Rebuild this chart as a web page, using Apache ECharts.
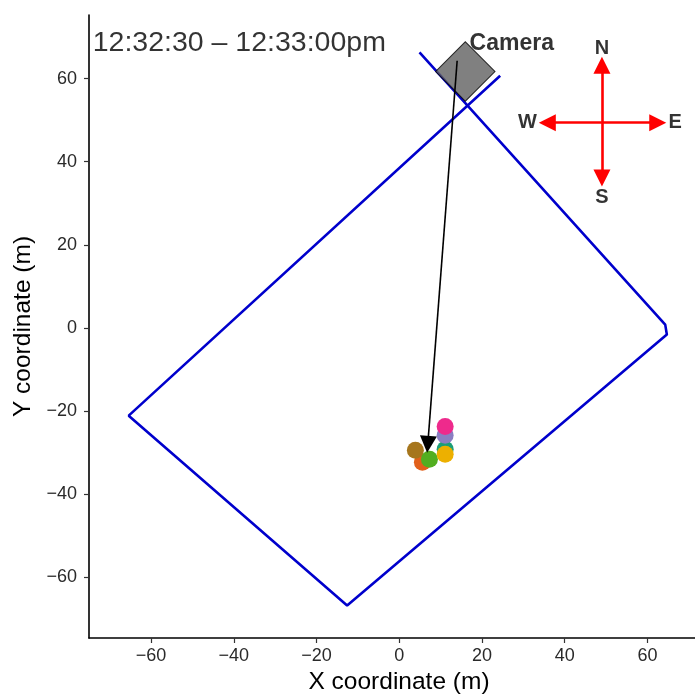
<!DOCTYPE html>
<html><head><meta charset="utf-8">
<script src="https://cdn.jsdelivr.net/npm/echarts@6/dist/echarts.min.js"></script>
<style>html,body{margin:0;padding:0;background:#fff}#c{width:695px;height:700px}</style>
</head><body><div id="c"></div>
<script>
// ---- data ----
const xTicks = [-60, -40, -20, 0, 20, 40, 60];
const yTicks = [-60, -40, -20, 0, 20, 40, 60];
const boundaryX = [4.9, 64.3, 64.7, -12.6, -65.4, 24.4];
const boundaryY = [66.3, 0.8, -1.6, -66.8, -21.1, 60.7];
const pointX = [5.6, 3.9, 7.3, 11.1, 11.1, 11.1, 11.1];
const pointY = [-32.3, -29.4, -31.6, -29.2, -30.4, -25.8, -23.7];
const pointColors = ['#E2601A', '#A6761D', '#52AE20', '#1B9E77', '#EDB000', '#8A7EC2', '#EE2A8C'];
const cameraPos = [15.97, 61.7];
const viewFrom = [14.0, 64.3];
const viewTo = [6.9, -28.0];
const compassCenter = [49.0, 49.4];
const compassTips = [[49.0, 63.2], [49.0, 36.1], [35.8, 49.4], [62.5, 49.4]];
const compassLetters = ['N', 'S', 'W', 'E'];
const compassLetterPos = [[49.0, 67.2], [49.0, 31.5], [31.0, 49.4], [66.7, 49.4]];
const titleText = '12:32:30 \u2013 12:33:00pm';
const titlePos = [-74.1, 68.6];
const cameraText = 'Camera';
const cameraTextPos = [27.2, 68.5];

const FONT = 'Liberation Sans, Arial, sans-serif';
const chart = echarts.init(document.getElementById('c'), null, {renderer: 'canvas'});

const boundaryData = boundaryX.map((x, i) => [x, boundaryY[i]]);
const pointData = pointX.map((x, i) => ({value: [x, pointY[i]], itemStyle: {color: pointColors[i]}}));
const fmt = v => (v < 0 ? '\u2212' + Math.abs(v) : String(v));

chart.setOption({
  animation: false,
  backgroundColor: '#fff',
  grid: {left: 89, right: 0, top: 15, bottom: 58},
  xAxis: {
    type: 'value', min: -75, max: 71.5,
    splitLine: {show: false},
    axisLine: {show: true, onZero: false, lineStyle: {color: '#000', width: 1.6}},
    axisTick: {show: true, customValues: xTicks, length: 5, lineStyle: {color: '#333', width: 1.2}},
    axisLabel: {customValues: xTicks, fontSize: 18, color: '#2a2a2a', margin: 9, fontFamily: FONT, formatter: fmt},
    name: 'X coordinate (m)', nameLocation: 'middle', nameGap: 32,
    nameTextStyle: {fontSize: 24.5, color: '#000', fontFamily: FONT, padding: [0, 0, 0, 14]}
  },
  yAxis: {
    type: 'value', min: -74.6, max: 75.3,
    splitLine: {show: false},
    axisLine: {show: true, onZero: false, lineStyle: {color: '#000', width: 1.6}},
    axisTick: {show: true, customValues: yTicks, length: 5, lineStyle: {color: '#333', width: 1.2}},
    axisLabel: {customValues: yTicks, fontSize: 18, color: '#2a2a2a', margin: 12, fontFamily: FONT, formatter: fmt},
    name: 'Y coordinate (m)', nameLocation: 'middle', nameGap: 49,
    nameTextStyle: {fontSize: 24.5, color: '#000', fontFamily: FONT}
  },
  series: [
    {
      type: 'line', data: boundaryData, showSymbol: false, symbol: 'none', silent: true,
      lineStyle: {color: '#0000CC', width: 2.6}, z: 2
    },
    {
      type: 'scatter', data: [cameraPos], symbol: 'rect', symbolSize: 42, symbolRotate: 45, silent: true,
      itemStyle: {color: '#606060', borderColor: '#000', borderWidth: 1}, z: 3
    },
    {
      type: 'scatter', data: pointData, symbolSize: 17, silent: true,
      itemStyle: {opacity: 1}, z: 4
    },
    {
      type: 'lines', coordinateSystem: 'cartesian2d', silent: true, z: 5,
      data: [{coords: [viewFrom, viewTo]}],
      symbol: ['none', 'triangle'], symbolSize: 17,
      lineStyle: {color: '#000', width: 1.6, opacity: 1}
    },
    {
      type: 'lines', coordinateSystem: 'cartesian2d', silent: true, z: 5,
      data: compassTips.map(t => ({coords: [compassCenter, t]})),
      symbol: ['none', 'triangle'], symbolSize: 17,
      lineStyle: {color: '#FF0000', width: 2.6, opacity: 1}
    },
    {
      type: 'scatter', silent: true, symbolSize: 0, z: 6,
      data: compassLetterPos.map((p, i) => ({value: p, name: compassLetters[i]})),
      label: {show: true, position: 'inside', formatter: p => p.name, fontSize: 20, fontWeight: 'bold',
        color: '#000', fontFamily: FONT}
    },
    {
      type: 'scatter', silent: true, symbolSize: 0, z: 6,
      data: [{value: cameraTextPos, name: cameraText}],
      label: {show: true, position: 'inside', formatter: p => p.name, fontSize: 23, fontWeight: 'bold',
        color: '#000', fontFamily: FONT}
    },
    {
      type: 'scatter', silent: true, symbolSize: 0, z: 6,
      data: [{value: titlePos, name: titleText}],
      label: {show: true, position: [0, 0], align: 'left', verticalAlign: 'middle', formatter: p => p.name,
        fontSize: 28.5, color: '#000', fontFamily: FONT}
    }
  ]
});
</script></body></html>
